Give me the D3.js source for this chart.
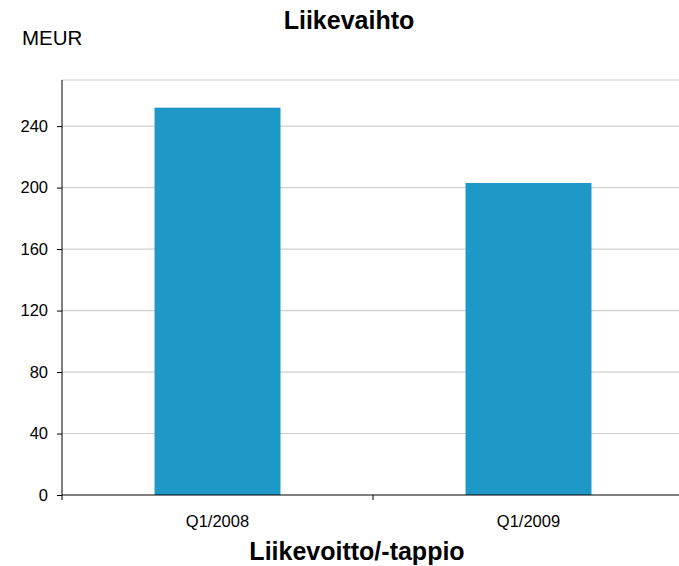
<!DOCTYPE html>
<html><head><meta charset="utf-8">
<script src="https://cdn.jsdelivr.net/npm/d3@7"></script>
<style>body{margin:0;background:#fff}svg{display:block}</style>
</head><body>
<script>
const categories = ["Q1/2008", "Q1/2009"];
const values = [252, 203];
const yTicks = [0, 40, 80, 120, 160, 200, 240];
const title = "Liikevaihto";
const unitLabel = "MEUR";
const bottomTitle = "Liikevoitto/-tappio";

const W = 679, H = 566;
const svg = d3.select("body").append("svg").attr("width", W).attr("height", H);
const font = "Liberation Sans, Arial, sans-serif";

const x = d3.scaleBand().domain(categories).range([62, 684]);
const y = d3.scaleLinear().domain([0, 270]).range([495, 80]);
const barW = x.bandwidth() * 0.405;

// gridlines
svg.append("g").selectAll("line").data(yTicks.filter(d => d > 0).concat([270])).join("line")
  .attr("x1", 62).attr("x2", W).attr("y1", d => y(d)).attr("y2", d => y(d))
  .attr("stroke", "#d0d0d0").attr("stroke-width", 1.2);

// bars
svg.append("g").selectAll("rect").data(values).join("rect")
  .attr("x", (d, i) => x(categories[i]) + (x.bandwidth() - barW) / 2)
  .attr("y", d => y(d)).attr("width", barW).attr("height", d => y(0) - y(d))
  .attr("fill", "#1e98c6");

// y axis
const ya = svg.append("g").attr("transform", "translate(62,0)")
  .call(d3.axisLeft(y).tickValues(yTicks).tickSize(5).tickPadding(9).tickSizeOuter(0));
ya.select(".domain").attr("stroke", "#000").attr("d", `M0,${y(270)}V${y(0)}`);
ya.selectAll(".tick line").attr("stroke", "#000");
ya.selectAll("text").attr("font-family", font).attr("font-size", 16.5).attr("fill", "#000");

// x axis
svg.append("line").attr("x1", 62).attr("x2", W).attr("y1", y(0)).attr("y2", y(0)).attr("stroke", "#000").attr("stroke-width", 1);
const xTickPos = [62, 62 + x.step()];
svg.append("g").selectAll("line").data(xTickPos).join("line")
  .attr("x1", d => d).attr("x2", d => d).attr("y1", y(0)).attr("y2", y(0) + 5).attr("stroke", "#000");
svg.append("g").selectAll("text").data(categories).join("text")
  .attr("x", d => x(d) + x.bandwidth() / 2).attr("y", 527)
  .attr("text-anchor", "middle").attr("font-family", font).attr("font-size", 16.5).text(d => d);

svg.append("text").attr("x", 349).attr("y", 29).attr("text-anchor", "middle")
  .attr("font-family", font).attr("font-size", 25).attr("font-weight", "bold").text(title);
svg.append("text").attr("x", 22).attr("y", 45)
  .attr("font-family", font).attr("font-size", 20.5).text(unitLabel);
svg.append("text").attr("x", 357).attr("y", 560).attr("text-anchor", "middle")
  .attr("font-family", font).attr("font-size", 25).attr("font-weight", "bold").text(bottomTitle);
</script>
</body></html>
